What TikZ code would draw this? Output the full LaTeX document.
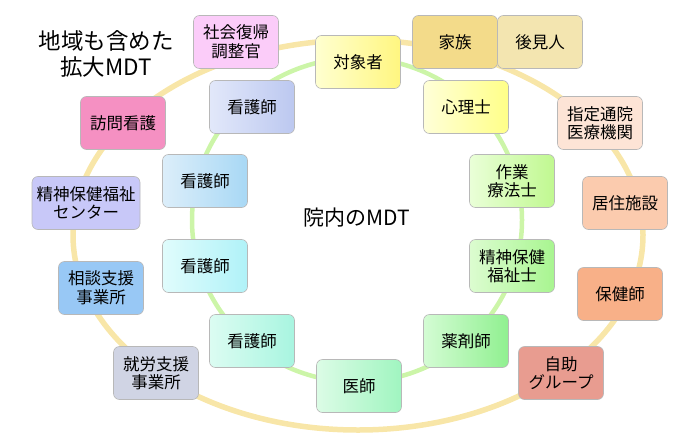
\documentclass[tikz,border=0pt]{standalone}
\usepackage{fontspec}
\setmainfont{Noto Sans CJK JP}
\usetikzlibrary{shadings}
\definecolor{ringout}{HTML}{F8E6A8}
\definecolor{ringin}{HTML}{CCF5A8}
\definecolor{cshakai}{HTML}{FBCCF9}
\definecolor{ckazoku}{HTML}{F3DB8A}
\definecolor{ckouken}{HTML}{F3E5B0}
\definecolor{cshitei}{HTML}{FDE4D6}
\definecolor{ckyoju}{HTML}{FBCBAE}
\definecolor{choken}{HTML}{F8B088}
\definecolor{cjijo}{HTML}{E89C90}
\definecolor{cshuro}{HTML}{D0D4E4}
\definecolor{csodan}{HTML}{98C8F5}
\definecolor{ccenter}{HTML}{C8C8F8}
\definecolor{choumon}{HTML}{F590C2}
\definecolor{ataisho}{HTML}{FFF680}\definecolor{btaisho}{HTML}{FFFFD0}
\definecolor{ashinri}{HTML}{FFFF88}\definecolor{bshinri}{HTML}{FFFFD8}
\definecolor{asagyo}{HTML}{C0F890}\definecolor{bsagyo}{HTML}{EAFFD8}
\definecolor{aseishin}{HTML}{A8F590}\definecolor{bseishin}{HTML}{DCFCD0}
\definecolor{ayaku}{HTML}{90F090}\definecolor{byaku}{HTML}{D4FCD4}
\definecolor{aishi}{HTML}{A0F5C0}\definecolor{bishi}{HTML}{DCFCE6}
\definecolor{akangoD}{HTML}{A8F5E0}\definecolor{bkangoD}{HTML}{DCFCF2}
\definecolor{akangoC}{HTML}{B0F2F8}\definecolor{bkangoC}{HTML}{E0FCFC}
\definecolor{akangoB}{HTML}{A8D8F5}\definecolor{bkangoB}{HTML}{DCEEFA}
\definecolor{akangoA}{HTML}{BCC8F0}\definecolor{bkangoA}{HTML}{E2E8FA}
\tikzset{
  box/.style={draw=black!28, line width=0.6pt, rounded corners=6pt, minimum width=85pt, minimum height=53pt,
    align=center, inner sep=2pt, font=\fontsize{16.5}{18.5}\selectfont},
  flat/.style={box, fill=#1},
  grad/.style n args={2}{box, shading angle=45, left color=#2, right color=#1},
}
\begin{document}
\begin{tikzpicture}[x=1pt,y=-1pt]
\useasboundingbox (0,0) rectangle (700,444);
\draw[ringout, line width=5.5pt] (358,235) ellipse [x radius=285, y radius=195];
\draw[ringin, line width=4.5pt] (357,220) ellipse [x radius=165, y radius=162];
% title
\node[font=\fontsize{22.5}{25.5}\selectfont, align=center] (title) at (106,54) {地域も含めた\\拡大MDT};
\node[font=\fontsize{21}{24}\selectfont] (inner) at (357,218) {院内のMDT};
% community
\node[flat=cshakai] (shakai) at (236,42) {社会復帰\\調整官};
\node[flat=ckazoku] (kazoku) at (455,42) {家族};
\node[flat=ckouken] (kouken) at (540,42) {後見人};
\node[flat=cshitei] (shitei) at (600,123) {指定通院\\医療機関};
\node[flat=ckyoju] (kyoju) at (625,203) {居住施設};
\node[flat=choken] (hoken) at (620,294) {保健師};
\node[flat=cjijo] (jijo) at (561,373) {自助\\グループ};
\node[flat=cshuro] (shuro) at (156,373) {就労支援\\事業所};
\node[flat=csodan] (sodan) at (101,288) {相談支援\\事業所};
\node[flat=ccenter, minimum width=108pt] (center) at (86,203) {精神保健福祉\\センター};
\node[flat=choumon] (houmon) at (123,123) {訪問看護};
% hospital
\node[grad={ataisho}{btaisho}] (taisho) at (358,62) {対象者};
\node[grad={ashinri}{bshinri}] (shinri) at (466,107) {心理士};
\node[grad={asagyo}{bsagyo}] (sagyo) at (512,181) {作業\\療法士};
\node[grad={aseishin}{bseishin}] (seishinshi) at (512,266) {精神保健\\福祉士};
\node[grad={ayaku}{byaku}] (yaku) at (466,341) {薬剤師};
\node[grad={aishi}{bishi}] (ishi) at (359,386) {医師};
\node[grad={akangoD}{bkangoD}] (kango4) at (252,341) {看護師};
\node[grad={akangoC}{bkangoC}] (kango3) at (205,266) {看護師};
\node[grad={akangoB}{bkangoB}] (kango2) at (205,181) {看護師};
\node[grad={akangoA}{bkangoA}] (kango1) at (252,107) {看護師};
\end{tikzpicture}
\end{document}
